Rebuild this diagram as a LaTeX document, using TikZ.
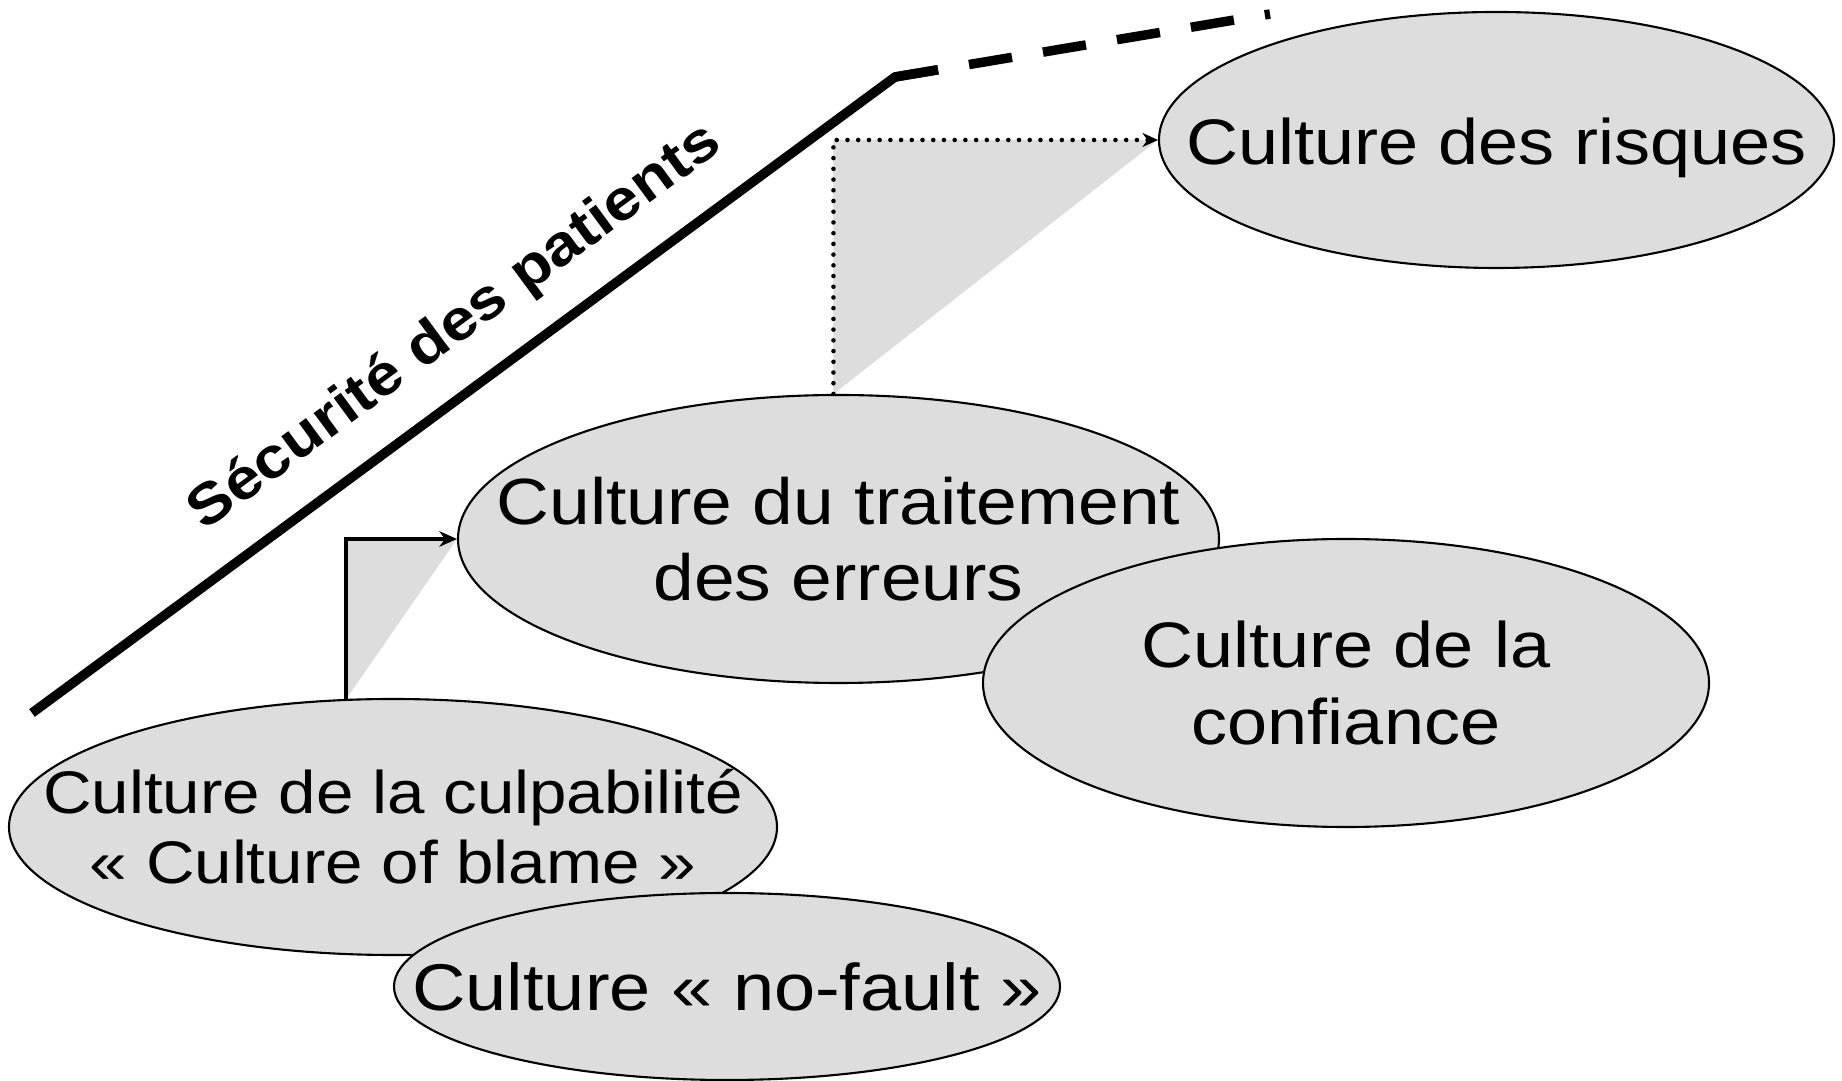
\documentclass[tikz,border=0pt]{standalone}
\usepackage{fontspec}
\setmainfont[FakeStretch=1.12]{Liberation Sans}
\usetikzlibrary{arrows.meta,calc,shapes.geometric}
\definecolor{ovalgray}{HTML}{DDDDDD}

\begin{document}
\begin{tikzpicture}[>={Stealth[length=5pt,width=4.4pt,inset=1.6pt]},
	oval/.style={ellipse,draw,line width=0.6pt,fill=ovalgray,inner sep=0pt},
	txt/.style={align=center,font=\fontsize{18.3}{21.8}\selectfont},
	axis/.style={line width=2.7pt},
	link/.style={->,line width=1.1pt},
	dots/.style={-{Stealth[length=4.4pt,width=4pt,inset=1.4pt]},line width=1.3pt,dash pattern=on 0pt off 3.05pt,line cap=round}]

\useasboundingbox (0,0) rectangle (18.42,-10.81);

% axe
\coordinate (base) at (0.32,-7.13);
\coordinate (knee) at (8.95,-0.77);
\coordinate (tip)  at (12.70,-0.14);
\draw[axis] (base) -- (knee) -- ($(knee)!0.436cm!(tip)$)
	(base) -- (knee) node[pos=0.531,sloped,above=0.27cm,inner sep=0pt,font=\bfseries\fontsize{16.3}{20}\selectfont] {Sécurité des patients};
\draw[axis,dash pattern=on 0.436cm off 0.314cm] (knee) -- (tip);

\node[oval,minimum width=6.75cm,minimum height=2.56cm,label={[txt,yshift=-0.08cm]center:Culture des risques}] (risk) at (14.965,-1.40) {};
\node[oval,minimum width=7.61cm,minimum height=2.88cm,label={[txt,font=\fontsize{18.6}{21.8}\selectfont]center:{Culture du traitement\\des erreurs}}] (trait) at (8.385,-5.39) {};
\node[oval,minimum width=7.26cm,minimum height=2.88cm,label={[txt]center:{Culture de la\\confiance}}] (conf) at (13.46,-6.83) {};
\node[oval,minimum width=7.68cm,minimum height=2.56cm,label={[txt,font=\fontsize{17.1}{20}\selectfont]center:{Culture de la culpabilité\\« Culture of blame »}}] (culp) at (3.93,-8.27) {};
\node[oval,minimum width=6.66cm,minimum height=1.87cm,label={[txt,font=\fontsize{18.8}{21.8}\selectfont]center:Culture « no-fault »}] (nofault) at (7.27,-9.865) {};

% passages
\fill[ovalgray] (trait.92) |- (risk.west) -- cycle;
\draw[dots] (trait.92) |- (risk.west);
\fill[ovalgray] (culp.110) |- (trait.west) -- cycle;
\draw[link] (culp.110) |- (trait.west);

\end{tikzpicture}
\end{document}
